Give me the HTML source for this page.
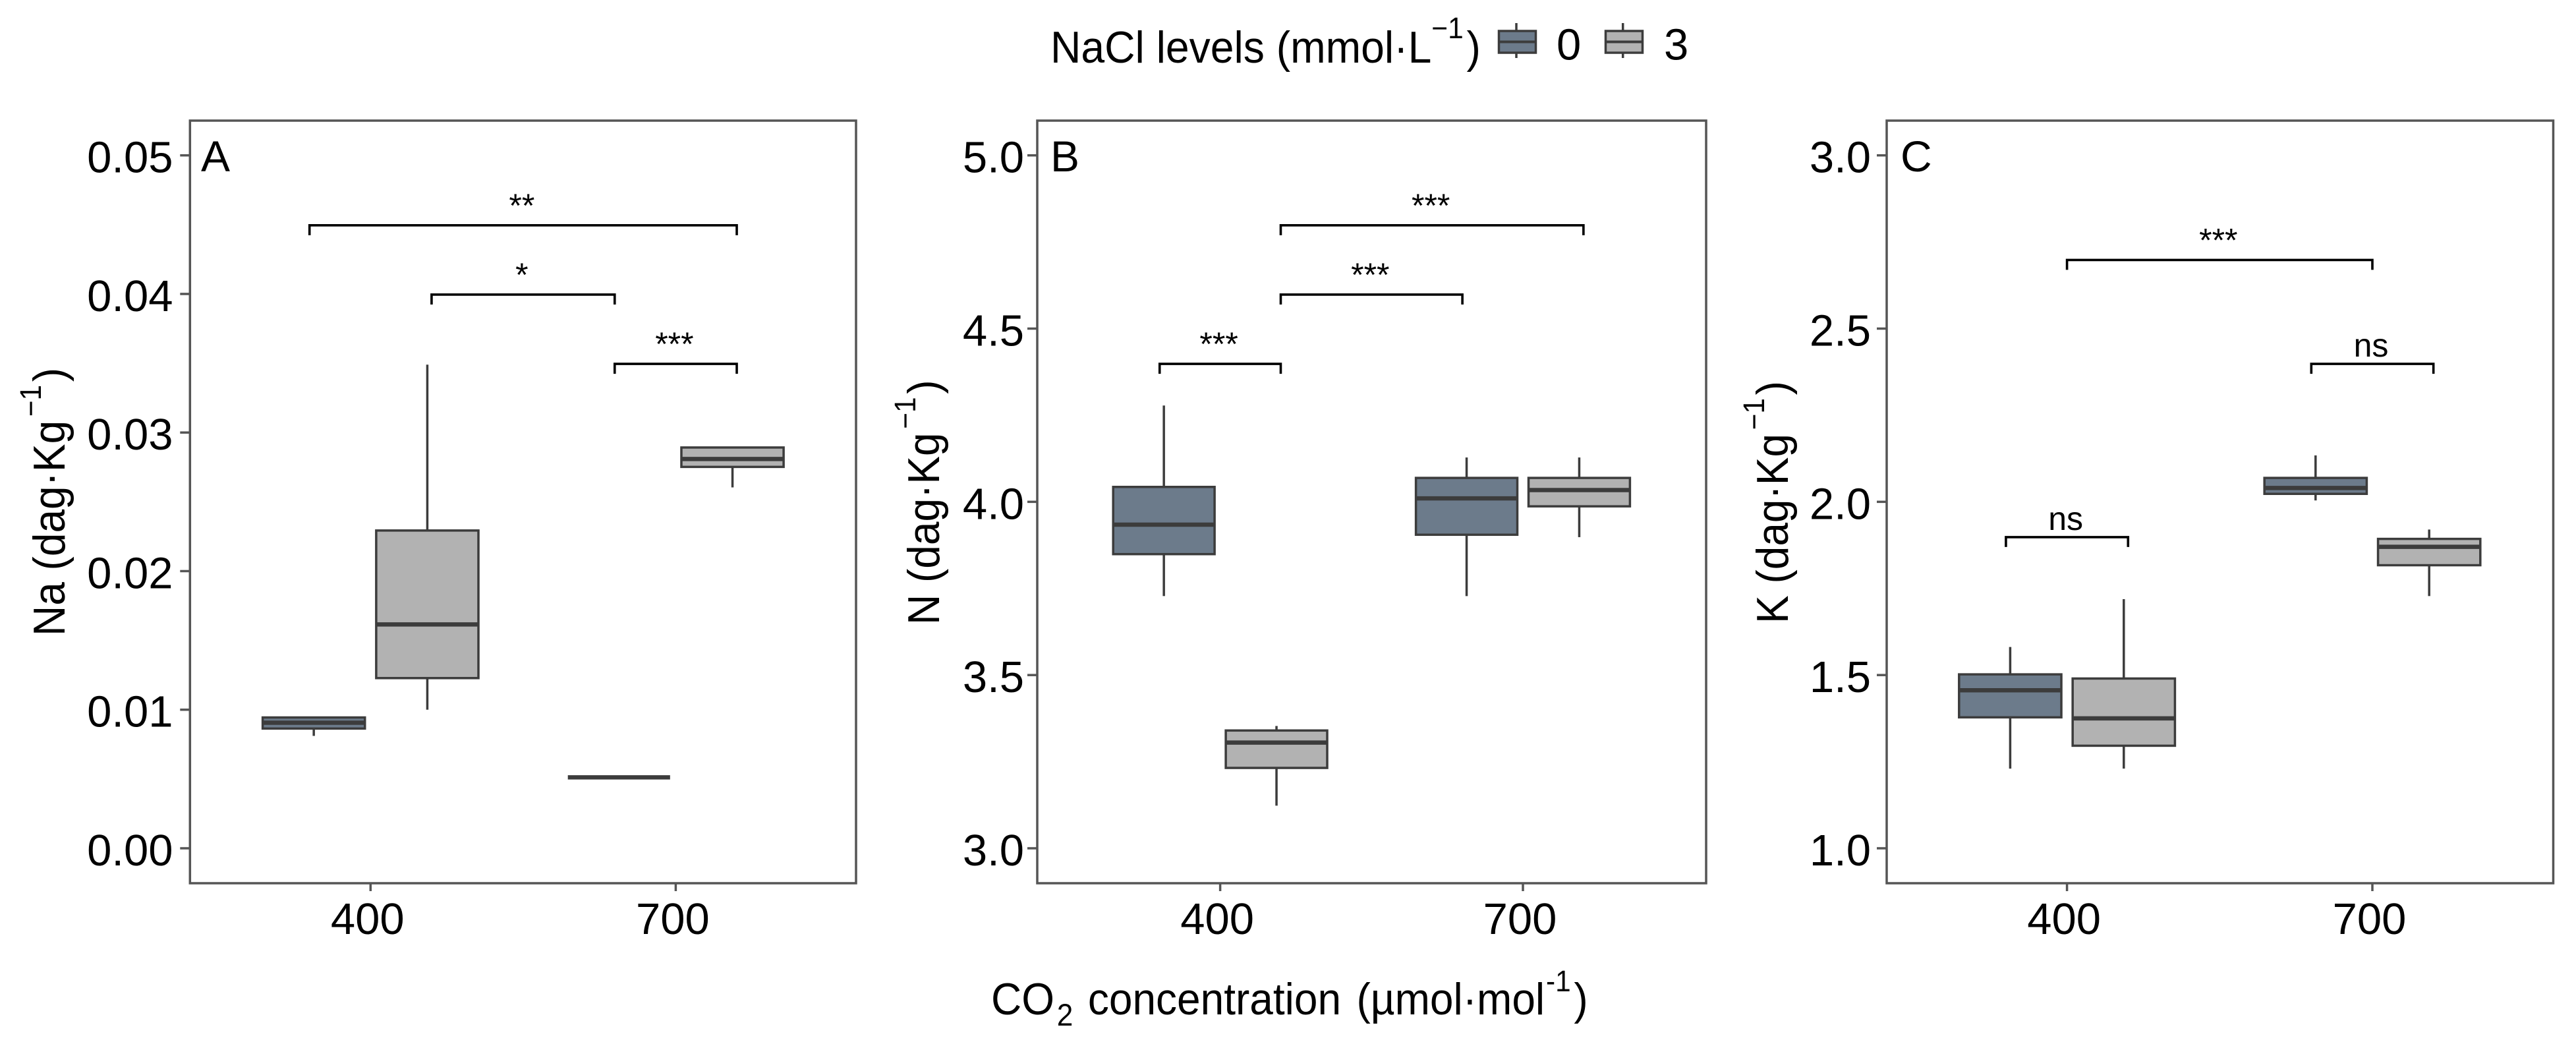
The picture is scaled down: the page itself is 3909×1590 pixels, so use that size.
<!DOCTYPE html>
<html lang="en">
<head>
<meta charset="utf-8">
<title>NaCl and CO2 effects on Na, N and K</title>
<style>
html,body{margin:0;padding:0;background:#fff;}
svg{display:block;}
text{font-family:"Liberation Sans",Arial,sans-serif;fill:#000;}
</style>
</head>
<body>
<svg id="chart" xmlns="http://www.w3.org/2000/svg" width="3909" height="1590" viewBox="0 0 3909 1590">
  <rect x="0" y="0" width="3909" height="1590" fill="#fff"/>

  <g>
    <text transform="translate(1594,95) scale(0.945,1)" font-size="68">NaCl levels (mmol·L<tspan font-size="45" dy="-37">−1</tspan><tspan dx="5" dy="37">)</tspan></text>
    <g>
      <line x1="2301" x2="2301" y1="35" y2="88" stroke="#3c3c3c" stroke-width="3.5"/>
      <rect x="2274.5" y="47" width="56" height="33" fill="#6C7B8B" stroke="#3c3c3c" stroke-width="3.5"/>
      <line x1="2274.5" x2="2330.5" y1="63.5" y2="63.5" stroke="#3c3c3c" stroke-width="4"/>
      <text x="2362" y="90.5" font-size="67">0</text>
    </g>
    <g>
      <line x1="2462.7" x2="2462.7" y1="35" y2="88" stroke="#3c3c3c" stroke-width="3.5"/>
      <rect x="2436.5" y="47" width="56" height="33" fill="#B2B2B2" stroke="#3c3c3c" stroke-width="3.5"/>
      <line x1="2436.5" x2="2492.5" y1="63.5" y2="63.5" stroke="#3c3c3c" stroke-width="4"/>
      <text x="2525" y="90.5" font-size="67">3</text>
    </g>
  </g>

  <text transform="translate(98,965) rotate(-90) scale(0.941,1)" font-size="68">Na (dag·Kg<tspan font-size="45" dx="6" dy="-36">−1</tspan><tspan dx="5" dy="36">)</tspan></text>
  <text transform="translate(1425,948) rotate(-90) scale(0.941,1)" font-size="68">N (dag·Kg<tspan font-size="45" dx="6" dy="-36">−1</tspan><tspan dx="5" dy="36">)</tspan></text>
  <text transform="translate(2713,946) rotate(-90) scale(0.941,1)" font-size="68">K (dag·Kg<tspan font-size="45" dx="6" dy="-36">−1</tspan><tspan dx="5" dy="36">)</tspan></text>

  <text transform="translate(1504,1539) scale(0.941,1)" font-size="68">CO<tspan font-size="47" dx="4" dy="17">2</tspan><tspan dx="24" dy="-17">concentration </tspan><tspan dx="6">(µmol·mol</tspan><tspan font-size="45" dx="2" dy="-35">-1</tspan><tspan dx="5" dy="35">)</tspan></text>

  <g id="panels"></g>
</svg>

<script>
// Shared categories
const categories = ['400', '700'];
const groups = ['0', '3'];
const groupFills = ['#6C7B8B', '#B2B2B2'];

// Panel A: Na. Order: 400/0, 400/3, 700/0, 700/3
const naLow = [0.00811, 0.0100, 0.00512, 0.02604];
const naQ1 = [0.00864, 0.01228, 0.00512, 0.02752];
const naMedian = [0.00906, 0.01615, 0.00512, 0.02809];
const naQ3 = [0.00944, 0.02293, 0.00512, 0.02892];
const naHigh = [0.00944, 0.0349, 0.00512, 0.02892];
const naTicks = [0, 0.01, 0.02, 0.03, 0.04, 0.05];
const naTickLabels = ['0.00', '0.01', '0.02', '0.03', '0.04', '0.05'];
const naBracketFrom = [0.8, 1.2, 1.8];
const naBracketTo = [2.2, 1.8, 2.2];
const naBracketLevel = [0.045, 0.04, 0.035];
const naBracketLabel = ['**', '*', '***'];

// Panel B: N
const nLow = [3.728, 3.123, 3.728, 3.898];
const nQ1 = [3.849, 3.232, 3.905, 3.987];
const nMedian = [3.934, 3.305, 4.010, 4.034];
const nQ3 = [4.043, 3.340, 4.069, 4.069];
const nHigh = [4.278, 3.353, 4.128, 4.128];
const nTicks = [3, 3.5, 4, 4.5, 5];
const nTickLabels = ['3.0', '3.5', '4.0', '4.5', '5.0'];
const nBracketFrom = [0.8, 1.2, 1.2];
const nBracketTo = [1.2, 1.8, 2.2];
const nBracketLevel = [4.4, 4.6, 4.8];
const nBracketLabel = ['***', '***', '***'];

// Panel C: K
const kLow = [1.230, 1.230, 2.004, 1.728];
const kQ1 = [1.378, 1.296, 2.023, 1.817];
const kMedian = [1.456, 1.375, 2.040, 1.870];
const kQ3 = [1.502, 1.490, 2.069, 1.893];
const kHigh = [1.581, 1.719, 2.134, 1.920];
const kTicks = [1, 1.5, 2, 2.5, 3];
const kTickLabels = ['1.0', '1.5', '2.0', '2.5', '3.0'];
const kBracketFrom = [0.8, 1.8, 1.0];
const kBracketTo = [1.2, 2.2, 2.0];
const kBracketLevel = [1.9, 2.4, 2.7];
const kBracketLabel = ['ns', 'ns', '***'];

const NS = 'http://www.w3.org/2000/svg';
const PLOT_TOP = 183, PLOT_BOTTOM = 1340;
const Y_HI_PX = 235.7, Y_LO_PX = 1287;
const DODGE = 0.186, BOX_W = 0.335;
const INK = '#3c3c3c';
const AXIS = '#555';

function mk(parent, tag, attrs, txt) {
  const el = document.createElementNS(NS, tag);
  for (const k in attrs) el.setAttribute(k, attrs[k]);
  if (txt !== undefined) el.textContent = txt;
  parent.appendChild(el);
  return el;
}

function drawPanel(p) {
  const root = document.getElementById('panels');
  const g = mk(root, 'g', {});
  
  

  const yMin = p.ticks[0], yMax = p.ticks[p.ticks.length - 1];
  const yScale = v => Y_LO_PX + (v - yMin) / (yMax - yMin) * (Y_HI_PX - Y_LO_PX);
  const xScale = u => p.x1 + (u - 1) * (p.x2 - p.x1);

  // panel background + border
  const frame = mk(g, 'rect', {x: p.left, y: PLOT_TOP, width: p.right - p.left, height: PLOT_BOTTOM - PLOT_TOP, fill: '#fff', stroke: AXIS, 'stroke-width': 3.5});
  
  

  // y axis
  p.ticks.forEach((t, i) => {
    const py = yScale(t);
    const tick = mk(g, 'line', {x1: p.left - 15, x2: p.left, y1: py, y2: py, stroke: AXIS, 'stroke-width': 3.5});
    
    
    const lab = mk(g, 'text', {x: p.labelRight, y: py + 26, 'font-size': 67, 'text-anchor': 'end'}, p.tickLabels[i]);
    
    
  });

  // x axis
  categories.forEach((c, i) => {
    const px = xScale(i + 1);
    const tick = mk(g, 'line', {x1: px, x2: px, y1: PLOT_BOTTOM, y2: PLOT_BOTTOM + 12, stroke: AXIS, 'stroke-width': 3.5});
    
    
    const lab = mk(g, 'text', {x: px - 4.5, y: 1417, 'font-size': 67, 'text-anchor': 'middle'}, c);
    
    
  });

  // boxes
  categories.forEach((c, ci) => {
    groups.forEach((gr, gi) => {
      const idx = ci * groups.length + gi;
      const cx = xScale(ci + 1 + (gi === 0 ? -DODGE : DODGE));
      const halfW = (xScale(1 + BOX_W) - xScale(1)) / 2;
      const bg = mk(g, 'g', {});
      
      
      const whiskHi = mk(bg, 'line', {x1: cx, x2: cx, y1: yScale(p.high[idx]), y2: yScale(p.q3[idx]), stroke: INK, 'stroke-width': 3.5});
      
      
      const whiskLo = mk(bg, 'line', {x1: cx, x2: cx, y1: yScale(p.q1[idx]), y2: yScale(p.low[idx]), stroke: INK, 'stroke-width': 3.5});
      
      
      const box = mk(bg, 'rect', {x: cx - halfW, y: yScale(p.q3[idx]), width: 2 * halfW, height: yScale(p.q1[idx]) - yScale(p.q3[idx]), fill: groupFills[gi], stroke: INK, 'stroke-width': 3.5});
      
      
      const med = mk(bg, 'line', {x1: cx - halfW, x2: cx + halfW, y1: yScale(p.median[idx]), y2: yScale(p.median[idx]), stroke: INK, 'stroke-width': 6.5});
      
      
    });
  });

  // significance brackets
  p.brFrom.forEach((f, i) => {
    const x1 = xScale(f), x2 = xScale(p.brTo[i]), py = yScale(p.brLevel[i]) + 1;
    const bg = mk(g, 'g', {});
    
    
    const path = mk(bg, 'path', {d: 'M' + x1 + ' ' + (py + 15) + 'V' + py + 'H' + x2 + 'V' + (py + 15), fill: 'none', stroke: '#000', 'stroke-width': 3.6});
    
    
    const label = p.brLabel[i];
    const lab = mk(bg, 'text', {x: (x1 + x2) / 2 - 2, y: py - (label === 'ns' ? 11 : 13), 'font-size': label === 'ns' ? 50 : 50, 'text-anchor': 'middle'}, label);
    
    
  });

  const tag = mk(g, 'text', {x: p.tagX, y: 260, 'font-size': 66}, p.tag);
  
  
}

drawPanel({key: 'na', tag: 'A', tagX: 305, left: 288.3, right: 1299, x1: 562.3, x2: 1025.4, labelRight: 262.5,
  ticks: naTicks, tickLabels: naTickLabels, low: naLow, q1: naQ1, median: naMedian, q3: naQ3, high: naHigh,
  brFrom: naBracketFrom, brTo: naBracketTo, brLevel: naBracketLevel, brLabel: naBracketLabel});
drawPanel({key: 'n', tag: 'B', tagX: 1594, left: 1574, right: 2589, x1: 1851.6, x2: 2311, labelRight: 1554,
  ticks: nTicks, tickLabels: nTickLabels, low: nLow, q1: nQ1, median: nMedian, q3: nQ3, high: nHigh,
  brFrom: nBracketFrom, brTo: nBracketTo, brLevel: nBracketLevel, brLabel: nBracketLabel});
drawPanel({key: 'k', tag: 'C', tagX: 2884, left: 2863, right: 3874.5, x1: 3136.6, x2: 3600, labelRight: 2839,
  ticks: kTicks, tickLabels: kTickLabels, low: kLow, q1: kQ1, median: kMedian, q3: kQ3, high: kHigh,
  brFrom: kBracketFrom, brTo: kBracketTo, brLevel: kBracketLevel, brLabel: kBracketLabel});
</script>
</body>
</html>
